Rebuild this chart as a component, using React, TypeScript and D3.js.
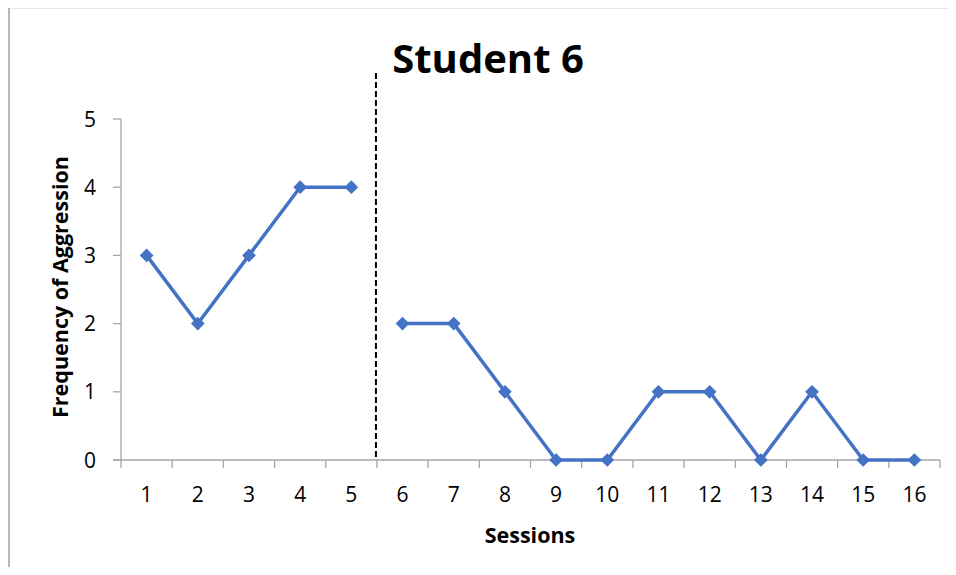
import React from "react";
import * as d3 from "d3";

const sessions = ["1","2","3","4","5","6","7","8","9","10","11","12","13","14","15","16"];
const baseline = [3, 2, 3, 4, 4];
const intervention = [2, 2, 1, 0, 0, 1, 1, 0, 1, 0, 0];
const yTicks = [0, 1, 2, 3, 4, 5];
const title = "Student 6";
const yLabel = "Frequency of Aggression";
const xLabel = "Sessions";
const topText = "d behaviors.";
const phaseAfter = 5;

const W = 956, H = 575;
const left = 121, right = 940, top = 119, bottom = 460;
const font = "'Open Sans', 'Noto Sans', sans-serif";
const blue = "#4472C4";
const gray = "#A6A6A6";

export default function App() {
  const x = d3.scaleBand<string>().domain(sessions).range([left, right]).padding(0);
  const y = d3.scaleLinear().domain([0, 5]).range([bottom, top]);
  const cx = (i: number) => (x(sessions[i]) as number) + x.bandwidth() / 2;

  const basePts = baseline.map((v, i) => [cx(i), y(v)] as [number, number]);
  const intPts = intervention.map((v, i) => [cx(i + baseline.length), y(v)] as [number, number]);
  const line = d3.line();
  const diamond = d3.symbol().type(d3.symbolDiamond2).size(120)();
  const phaseX = (x(sessions[phaseAfter]) as number);

  return (
    <div style={{ margin: -8, width: W, height: H, overflow: "hidden" }}>
      <svg width={W} height={H} style={{ display: "block", background: "#fff" }}>
        <text x={2} y={5} fontFamily="'Liberation Serif', serif" fontSize={20} fill="#000">{topText}</text>
        <path d={`M9,${H} V7.5 H${W}`} fill="none" stroke="#a0a0a0" strokeWidth={1.5} />
        <text x={488} y={73} textAnchor="middle" fontFamily={font} fontWeight="bold" fontSize={40} fill="#000">{title}</text>
        {/* y axis */}
        <line x1={left} x2={left} y1={top} y2={bottom} stroke={gray} strokeWidth={1.3} />
        {yTicks.map(t => (
          <g key={t}>
            <line x1={left - 8} x2={left} y1={y(t)} y2={y(t)} stroke={gray} strokeWidth={1.3} />
            <text x={96} y={y(t)} dy="0.36em" textAnchor="end" fontFamily={font} fontSize={21} fill="#000">{t}</text>
          </g>
        ))}
        {/* x axis */}
        <line x1={left - 8} x2={right} y1={bottom} y2={bottom} stroke={gray} strokeWidth={1.3} />
        {sessions.concat(["end"]).map((s, i) => {
          const xx = i < sessions.length ? (x(s) as number) : right;
          return <line key={"t" + i} x1={xx} x2={xx} y1={bottom} y2={bottom + 8} stroke={gray} strokeWidth={1.3} />;
        })}
        {sessions.map((s, i) => (
          <text key={s} x={cx(i)} y={502} textAnchor="middle" fontFamily={font} fontSize={21} fill="#000">{s}</text>
        ))}
        <text x={530} y={543} textAnchor="middle" fontFamily={font} fontWeight="bold" fontSize={21.5} fill="#000">{xLabel}</text>
        <text transform={`translate(68,287) rotate(-90)`} textAnchor="middle" fontFamily={font} fontWeight="bold" fontSize={21.5} fill="#000">{yLabel}</text>
        {/* phase line */}
        <line x1={phaseX - 1} x2={phaseX - 1} y1={73} y2={bottom} stroke="#000" strokeWidth={2} strokeDasharray="6,3" />
        {/* series */}
        <path d={line(basePts) || ""} fill="none" stroke={blue} strokeWidth={3.5} />
        <path d={line(intPts) || ""} fill="none" stroke={blue} strokeWidth={3.5} />
        {basePts.concat(intPts).map((p, i) => (
          <path key={"m" + i} d={diamond || ""} transform={`translate(${p[0]},${p[1]})`} fill={blue} />
        ))}
      </svg>
    </div>
  );
}
